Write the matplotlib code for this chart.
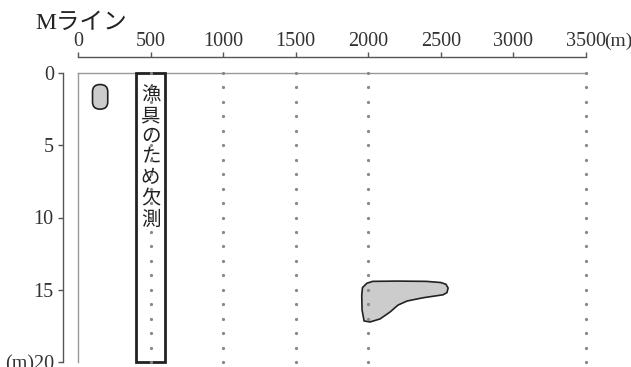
import matplotlib
matplotlib.use("Agg")
import matplotlib.pyplot as plt
from matplotlib.patches import Rectangle, Polygon, FancyBboxPatch

plt.rcParams['font.family'] = ['Liberation Serif', 'Noto Sans CJK JP']

# データ
x_ticks = [0, 500, 1000, 1500, 2000, 2500, 3000, 3500]
x_labels = ['0', '500', '1000', '1500', '2000', '2500', '3000', '3500']
y_ticks = [0, 5, 10, 15, 20]
y_labels = ['0', '5', '10', '15', '(m)20']
survey_x = [500, 1000, 1500, 2000, 3500]   # 測線位置
depths = list(range(0, 21))               # 1m ごとの測点

missing_x = (400, 600)                    # 漁具のため欠測
missing_text = '漁具のため欠測'

small_school = (100, 0.8, 205, 2.5)       # x0, y0, x1, y1
blob_x = [1960, 1990, 2030, 2200, 2400, 2500, 2535, 2550, 2542, 2515,
          2380, 2267, 2205, 2150, 2081, 2012, 1971, 1957, 1955]
blob_y = [14.85, 14.55, 14.42, 14.4, 14.42, 14.5, 14.62, 14.88, 15.2, 15.35,
          15.55, 15.78, 16.06, 16.54, 17.02, 17.23, 17.16, 16.4, 15.4]

PX = 72 / 100  # 1 ピクセル（ポイント単位）

fig = plt.figure(figsize=(6.31, 3.67), dpi=100)
ax = fig.add_axes([78 / 631, 5 / 367, 508 / 631, 289 / 367])
ax.set_xlim(0, 3500)
ax.set_ylim(20, 0)

for s in ['right', 'bottom']:
    ax.spines[s].set_visible(False)
ax.spines['top'].set_position(('outward', 16 * PX))
ax.spines['left'].set_position(('outward', 15 * PX))
for s in ['top', 'left']:
    ax.spines[s].set_color('#555555')
    ax.spines[s].set_linewidth(1)

ax.xaxis.set_ticks_position('top')
ax.set_xticks(x_ticks)
ax.set_xticklabels(x_labels)
ax.set_yticks(y_ticks)
ax.set_yticklabels(y_labels)
ax.tick_params(axis='both', direction='out', length=5 * PX, width=1,
               color='#555555', labelsize=14.5, labelcolor='#333333')
ax.tick_params(axis='x', pad=0.5)
ax.tick_params(axis='y', pad=3)

ax.annotate('(m)', xy=(3500, 0), xycoords='data', textcoords='offset pixels',
            xytext=(18.5, 22.5), ha='left', va='bottom', fontsize=14,
            color='#333333', annotation_clip=False)

# 枠線（グレー）
ax.axhline(0, color='#999999', lw=1, clip_on=False)
ax.axvline(0, color='#999999', lw=1, clip_on=False)

# 測点の点線
for xv in survey_x:
    ax.plot([xv] * len(depths), depths, ls='none', marker='o', ms=1.3,
            color='#888888', clip_on=False, zorder=4)

# 欠測ボックス
ax.add_patch(Rectangle((missing_x[0], 0), missing_x[1] - missing_x[0], 20,
                       facecolor='white', edgecolor='#222222', lw=2,
                       clip_on=False, zorder=3))
for i, ch in enumerate(missing_text):
    ax.text(sum(missing_x) / 2, 1.6 + i * 1.43, ch, ha='center', va='center',
            fontsize=14, color='#222222', zorder=3.5)

# 魚群
x0, y0, x1, y1 = small_school
ax.add_patch(FancyBboxPatch((x0, y0), x1 - x0, y1 - y0,
                            boxstyle='round,pad=0,rounding_size=50',
                            mutation_aspect=0.01, facecolor='#cccccc',
                            edgecolor='#222222', lw=1.2, zorder=3))
ax.add_patch(Polygon(list(zip(blob_x, blob_y)), closed=True,
                     facecolor='#cccccc', edgecolor='#222222', lw=1.2,
                     joinstyle='round', zorder=3))

fig.text(35 / 631, 1 - 29 / 367, 'Mライン', fontsize=17, va='baseline',
         color='#222222')

fig.savefig('out.png', dpi=100)
